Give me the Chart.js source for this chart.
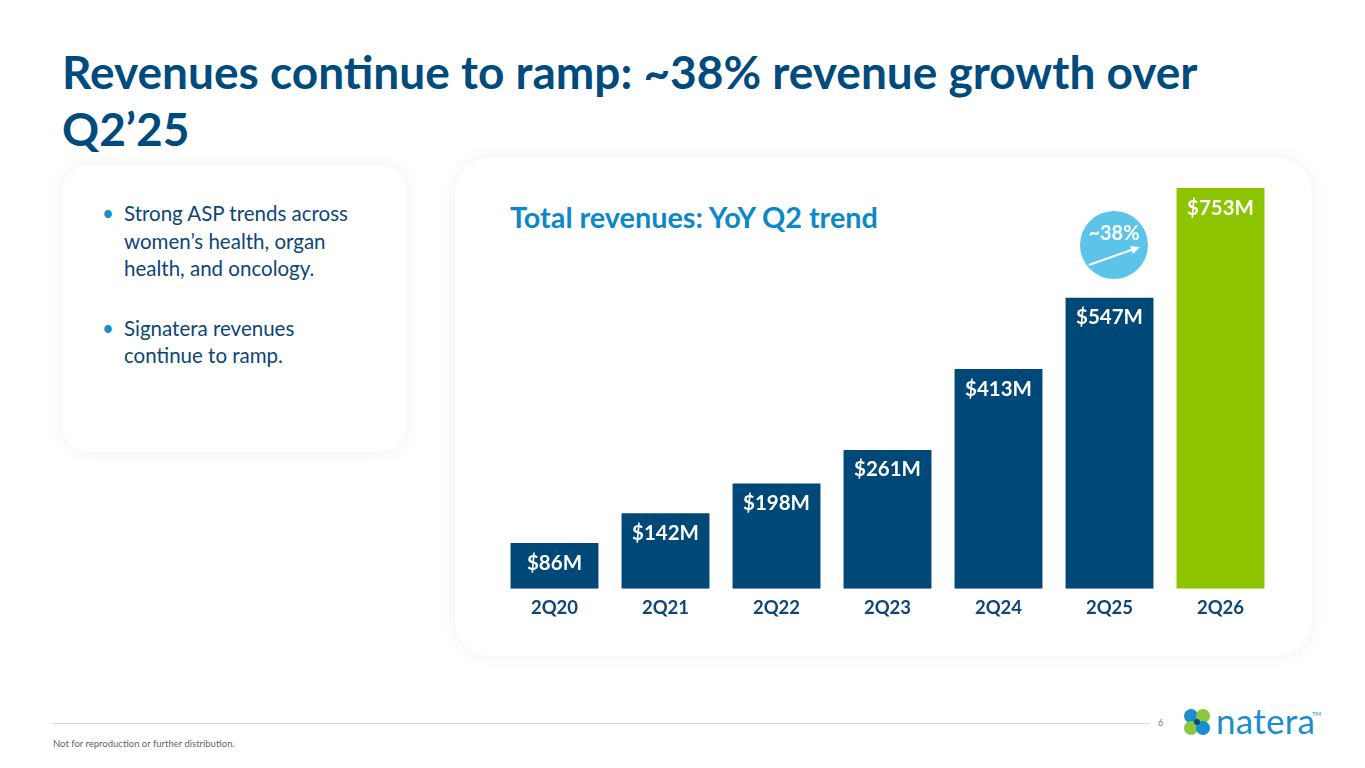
<!DOCTYPE html>
<html>
<head>
<meta charset="utf-8">
<script src="https://cdn.jsdelivr.net/npm/chart.js@4.4.1/dist/chart.umd.min.js"></script>
<style>
  html, body { margin: 0; padding: 0; background: #ffffff; }
  body { width: 1365px; height: 768px; position: relative; overflow: hidden; font-family: Lato, "Open Sans", sans-serif; }
  h1 { position: absolute; left: 62px; top: 43px; margin: 0; font-size: 46px; line-height: 57px; font-weight: 700; color: #004B7D; width: 1220px; }
  .card { position: absolute; background: #fff; box-shadow: 0 0 18px rgba(0,0,0,0.06); }
  #left { left: 62px; top: 165px; width: 344px; height: 287px; border-radius: 26px; }
  #right { left: 455px; top: 157px; width: 857px; height: 499px; border-radius: 36px; }
  #left ul { margin: 0; padding: 0; list-style: none; position: absolute; left: 40px; top: 35px; width: 272px; }
  #left li { position: relative; padding-left: 22px; font-size: 20.5px; line-height: 27.5px; color: #0D4677; margin-bottom: 32px; }
  #left li:before { content: "\2022"; position: absolute; left: 0; top: 0; color: #1B8ECF; }
  #sub { position: absolute; left: 510px; top: 200px; font-size: 28.8px; font-weight: 700; color: #0B88C9; margin: 0; }
  #wrap { position: absolute; left: 499px; top: 188px; width: 777px; height: 431px; }
  #badge { position: absolute; left: 1080px; top: 211px; width: 68px; height: 68px; border-radius: 50%; background: #5BC4E8; }
  #badge span { position: absolute; left: 0; top: 9px; width: 68px; text-align: center; color: #fff; font-weight: 700; font-size: 20px; }
  #badge svg { position: absolute; left: 0; top: 0; }
  #rule { position: absolute; left: 53px; top: 723px; width: 1097px; height: 1px; background: #dcdcdc; }
  #page { position: absolute; left: 1158px; top: 717px; font-size: 9px; color: #777; }
  #foot { position: absolute; left: 53px; top: 738px; font-size: 9.5px; color: #666; }
  #logo { position: absolute; left: 1184px; top: 708px; width: 140px; height: 32px; }
  #logo .p { position: absolute; width: 14px; height: 14px; border-radius: 50%; }
  #logo .t { position: absolute; left: 32px; top: -9px; font-size: 35px; color: #1B8ECF; font-weight: 400; letter-spacing: 0.3px; }
  #logo .tm { position: absolute; left: 128px; top: 2px; font-size: 6px; color: #1B8ECF; }
</style>
</head>
<body>
<h1>Revenues continue to ramp: ~38% revenue growth over Q2’25</h1>

<div class="card" id="left">
  <ul>
    <li>Strong ASP trends across women’s health, organ health, and oncology.</li>
    <li>Signatera revenues continue to ramp.</li>
  </ul>
</div>

<div class="card" id="right"></div>
<p id="sub">Total revenues: YoY Q2 trend</p>

<div id="wrap"><canvas id="revChart"></canvas></div>

<div id="badge">
  <span>~38%</span>
  <svg width="68" height="68">
    <line x1="9" y1="54" x2="54" y2="38" stroke="#fff" stroke-width="2"/>
    <polygon points="60,36 50,35 53,43" fill="#fff"/>
  </svg>
</div>

<div id="rule"></div>
<div id="page">6</div>
<div id="foot">Not for reproduction or further distribution.</div>
<div id="logo">
  <div class="p" style="left:0;top:1px;background:#1B8ECF"></div>
  <div class="p" style="left:12px;top:1px;background:#8DC63F"></div>
  <div class="p" style="left:0;top:13px;background:#8DC63F"></div>
  <div class="p" style="left:12px;top:13px;background:#1B8ECF"></div>
  <div class="p" style="left:10px;top:11px;width:6px;height:6px;background:#0D4677"></div>
  <div class="t">natera</div>
  <div class="tm">TM</div>
</div>

<script>
// data
var quarters = ['2Q20', '2Q21', '2Q22', '2Q23', '2Q24', '2Q25', '2Q26'];
var revenues = [86, 142, 198, 261, 413, 547, 753];
var valueLabels = ['$86M', '$142M', '$198M', '$261M', '$413M', '$547M', '$753M'];

var barColors = [];
for (var i in revenues) {
	barColors.push(i == revenues.length - 1 ? '#8DC400' : '#004877');
}

// white value labels just inside the top of each bar
var insideLabels = {
	id: 'insideLabels',
	afterDatasetsDraw: function(chart) {
		var ctx = chart.ctx;
		var meta = chart.getDatasetMeta(0);
		ctx.save();
		ctx.fillStyle = '#ffffff';
		ctx.font = 'bold 20.5px Lato, sans-serif';
		ctx.textAlign = 'center';
		ctx.textBaseline = 'middle';
		meta.data.forEach(function(bar, idx) {
			ctx.fillText(valueLabels[idx], bar.x, bar.y + 20);
		});
		ctx.restore();
	}
};

var chartdata = {
	labels: quarters,
	datasets: [
		{
			label: 'Total revenues',
			backgroundColor: barColors,
			borderWidth: 0,
			data: revenues,
			barPercentage: 0.88,
			categoryPercentage: 0.9
		}
	]
};

var ctx = document.getElementById('revChart');

var barGraph = new Chart(ctx, {
	type: 'bar',
	data: chartdata,
	options: {
		responsive: true,
		maintainAspectRatio: false,
		animation: false,
		layout: { padding: 0 },
		plugins: {
			legend: { display: false },
			tooltip: { enabled: false }
		},
		scales: {
			x: {
				grid: { display: false },
				border: { display: false },
				ticks: {
					color: '#0D4677',
					padding: 0,
					font: { family: 'Lato, sans-serif', size: 18.5, weight: 'bold' }
				}
			},
			y: {
				display: false,
				min: 0,
				max: 753
			}
		}
	},
	plugins: [insideLabels]
});
</script>
</body>
</html>
